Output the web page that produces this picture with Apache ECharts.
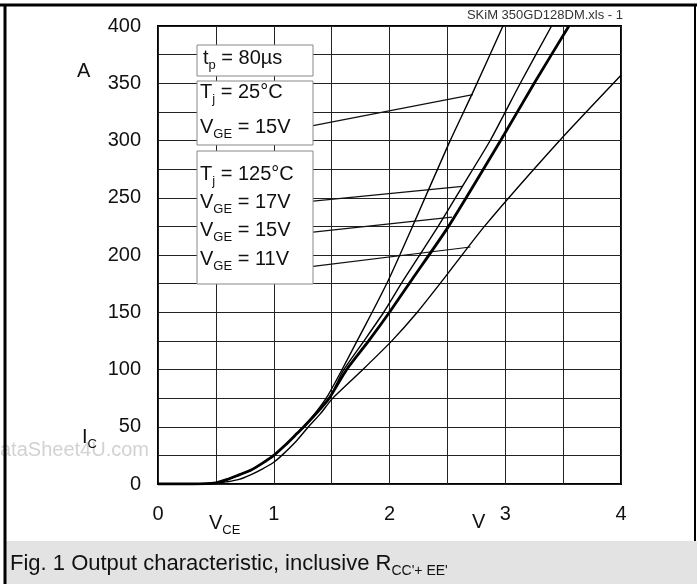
<!DOCTYPE html>
<html lang="en">
<head>
    <meta charset="UTF-8">
    <title>Output characteristic</title>
    <script src="https://cdn.jsdelivr.net/npm/echarts@6/dist/echarts.min.js"></script>
    <style>
        html, body { margin: 0; padding: 0; background: #fff; }
    </style>
</head>
<body>
    <div id="chart" style="width: 697px;height: 584px;"></div>
</body>
<script type="text/javascript">
    // x/y tick values (labels only on every second tick)
    var vTicks = [0, 1, 2, 3, 4];
    var iTicks = [0, 50, 100, 150, 200, 250, 300, 350, 400];

    // curves [V_CE, I_C]
    var curve25_15 = [[0, 0], [0.3, 0], [0.5, 1], [0.6, 4], [0.7, 8], [0.8, 12], [0.9, 18], [1.0, 25], [1.1, 34], [1.2, 44], [1.26, 50], [1.36, 62], [1.46, 76], [1.58, 98], [1.72, 125], [1.85, 150], [1.99, 178], [2.19, 223], [2.52, 299], [2.72, 342], [2.98, 400]];
    var curve125_17 = [[0, 0], [0.3, 0], [0.5, 1], [0.6, 4], [0.7, 8], [0.8, 12], [0.9, 18], [1.0, 25], [1.1, 34], [1.2, 44], [1.26, 50], [1.37, 62], [1.48, 75], [1.60, 99], [1.78, 125], [1.95, 150], [2.12, 178], [2.42, 225], [2.63, 260], [2.87, 300], [3.13, 350], [3.40, 400]];
    var curve125_15 = [[0, 0], [0.3, 0], [0.5, 1], [0.6, 4], [0.7, 8], [0.8, 12], [0.9, 18], [1.0, 25], [1.1, 34], [1.2, 44], [1.26, 50], [1.37, 62], [1.48, 75], [1.63, 100], [1.82, 125], [2.00, 150], [2.19, 178], [2.51, 225], [2.96, 300], [3.25, 350], [3.55, 400]];
    var curve125_11 = [[0, 0], [0.45, 0], [0.6, 2], [0.7, 4], [0.8, 8], [0.9, 13], [1.0, 19], [1.07, 25], [1.2, 38], [1.3, 50], [1.4, 61], [1.51, 75], [1.77, 100], [2.02, 125], [2.24, 150], [2.46, 178], [2.82, 225], [3.47, 300], [4.0, 357]];

    // leader lines from label boxes to curves
    var lead25_15 = [[1.34, 313], [2.72, 340]];
    var lead125_17 = [[1.34, 247], [2.63, 260]];
    var lead125_15 = [[1.34, 220], [2.54, 233]];
    var lead125_11 = [[1.34, 190], [2.70, 207]];

    var chart = echarts.init(document.getElementById('chart'));
    var FONT = 'Liberation Sans';

    function curve(data, w) {
        return {
            type: 'line', data: data, showSymbol: false, smooth: 0.2,
            lineStyle: { color: '#000', width: w }, z: 3
        };
    }
    function lead(data) {
        return {
            type: 'line', data: data, showSymbol: false,
            lineStyle: { color: '#111', width: 1.2 }, z: 2
        };
    }
    // rich text: {m|..} normal, {s|..} subscript
    function rich(size, subSize) {
        return {
            m: { fontSize: size, fontFamily: FONT, lineHeight: 28, color: '#111' },
            s: { fontSize: subSize, fontFamily: FONT, lineHeight: 14, verticalAlign: 'bottom', color: '#111' }
        };
    }
    function rtext(x, y, str, size, subSize) {
        return {
            type: 'text', left: x, top: y, z: 120,
            style: { text: str, rich: rich(size || 20, subSize || 13), fontFamily: FONT, fill: '#111' }
        };
    }
    function box(x, y, w, h) {
        return {
            type: 'rect', shape: { x: x, y: y, width: w, height: h }, z: 110,
            style: { fill: '#fff', stroke: '#888', lineWidth: 1 }
        };
    }

    var option = {
        animation: false,
        grid: { left: 158, right: 76, top: 26, bottom: 100, show: true, borderColor: '#000', borderWidth: 2 },
        xAxis: {
            type: 'value', min: 0, max: 4, interval: 0.5,
            axisLine: { show: false }, axisTick: { show: false },
            splitLine: { lineStyle: { color: '#222', width: 1 } },
            axisLabel: {
                margin: 20, fontSize: 20, fontFamily: FONT, color: '#111',
                formatter: function (v) { return vTicks.indexOf(v) >= 0 ? String(v) : ''; }
            }
        },
        yAxis: {
            type: 'value', min: 0, max: 400, interval: 25,
            axisLine: { show: false }, axisTick: { show: false },
            splitLine: { lineStyle: { color: '#222', width: 1 } },
            axisLabel: {
                margin: 17, fontSize: 20, fontFamily: FONT, color: '#111',
                formatter: function (v) { return iTicks.indexOf(v) >= 0 ? String(v) : ''; }
            }
        },
        series: [
            curve(curve25_15, 1.4),
            curve(curve125_17, 1.4),
            curve(curve125_15, 2.8),
            curve(curve125_11, 1.4),
            lead(lead25_15),
            lead(lead125_17),
            lead(lead125_15),
            lead(lead125_11)
        ],
        graphic: [
            // frame and caption band
            { type: 'rect', shape: { x: 5, y: 541, width: 692, height: 43 }, z: 1, style: { fill: '#e3e3e3' } },
            { type: 'line', shape: { x1: 0, y1: 5, x2: 697, y2: 5 }, z: 5, style: { stroke: '#000', lineWidth: 3 } },
            { type: 'line', shape: { x1: 5, y1: 5, x2: 5, y2: 584 }, z: 5, style: { stroke: '#000', lineWidth: 3 } },
            { type: 'line', shape: { x1: 695, y1: 5, x2: 695, y2: 541 }, z: 5, style: { stroke: '#000', lineWidth: 2 } },
            {
                type: 'text', right: 74, top: 9, z: 5,
                style: { text: 'SKiM 350GD128DM.xls - 1', fontSize: 13, fontFamily: FONT, fill: '#333' }
            },
            {
                type: 'text', left: 0, top: 440, z: 0,
                style: { text: 'ataSheet4U.com', fontSize: 20, fontFamily: FONT, fill: '#d2d2d2' }
            },
            // axis names
            rtext(77, 61, '{m|A}'),
            rtext(82, 427, '{m|I}{s|C}'),
            rtext(209, 513, '{m|V}{s|CE}'),
            rtext(472, 512, '{m|V}'),
            rtext(10, 553, '{m|Fig. 1 Output characteristic, inclusive R}{s|CC\'+ EE\'}', 22, 14),
            // label boxes
            box(197, 45, 116, 31),
            rtext(203, 48, '{m|t}{s|p}{m| = 80µs}'),
            box(197, 81, 116, 64),
            rtext(200, 82, '{m|T}{s|j}{m| = 25°C}'),
            rtext(200, 117, '{m|V}{s|GE}{m| = 15V}'),
            box(197, 151, 116, 133),
            rtext(200, 164, '{m|T}{s|j}{m| = 125°C}'),
            rtext(200, 192, '{m|V}{s|GE}{m| = 17V}'),
            rtext(200, 220, '{m|V}{s|GE}{m| = 15V}'),
            rtext(200, 249, '{m|V}{s|GE}{m| = 11V}')
        ]
    };

    chart.setOption(option);
</script>
</html>
